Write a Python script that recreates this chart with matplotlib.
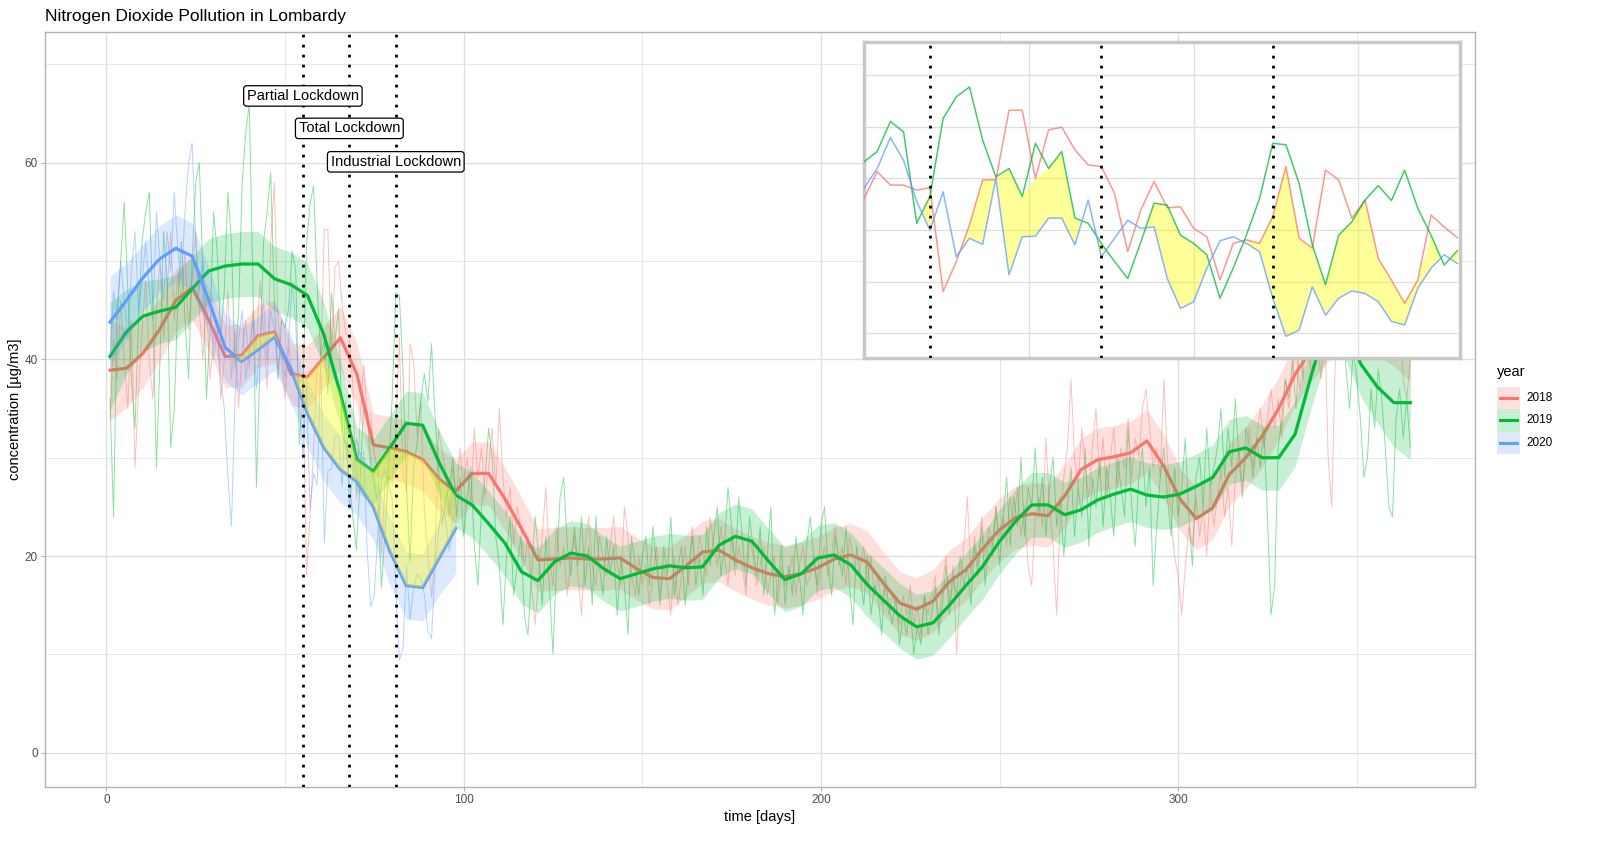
import numpy as np
import matplotlib
matplotlib.use("Agg")
import matplotlib.pyplot as plt
from matplotlib.patches import Rectangle
from matplotlib.lines import Line2D

plt.rcParams['font.family'] = ['Liberation Sans', 'DejaVu Sans']

# daily NO2 values, day 1 ... end
no2_2018 = [
    34, 42, 38, 46, 40, 35, 44, 29, 37, 43,
    48, 40, 36, 45, 50, 42, 47, 53, 44, 49,
    46, 51, 43, 48, 53, 45, 40, 46, 38, 42,
    44, 36, 40, 47, 38, 43, 35, 41, 44, 39,
    45, 41, 48, 43, 37, 52, 58, 44, 40,
    36.1, 41.3, 38.7, 38.7, 37.7, 38.2, 18.1, 23.9, 31.0, 39.7,
    39.7, 53.2, 53.2, 40.0, 49.4, 49.9, 45.5, 42.6, 42.3, 37.1,
    25.8, 33.9, 39.4, 34.3, 34.5, 30.3, 28.7, 20.3, 27.4, 28.1,
    27.4, 32.6, 42.3, 28.4, 26.5, 41.6, 39.7, 32.3, 35.8, 24.5,
    20.3, 15.8, 20.3, 32.9, 30.6, 28.5,
    24, 29, 26, 31, 27,
    30, 25, 33, 28, 31, 26, 29, 33, 27, 35,
    28, 24, 27, 21, 25, 23, 19, 22, 17, 13,
    18, 22, 27, 20, 17, 23, 19, 21, 16, 20,
    22, 18, 14, 21, 24, 19, 17, 22, 20, 18,
    21, 24, 19, 17, 25, 22, 18, 16, 20, 17,
    19, 15, 18, 21, 16, 19, 17, 14, 20, 15,
    18, 21, 17, 23, 19, 22, 20, 18, 24, 21,
    19, 23, 20, 17, 22, 18, 21, 19, 16, 22,
    20, 17, 19, 21, 16, 18, 20, 15, 19, 17,
    18, 20, 16, 19, 21, 17, 18, 20, 16, 19,
    21, 18, 20, 23, 19, 21, 17, 22, 20, 18,
    19, 21, 17, 20, 16, 18, 15, 17, 14, 16,
    15, 13, 16, 14, 17, 13, 15, 12, 16, 14,
    16, 18, 13, 17, 20, 15, 19, 10, 17, 21,
    26, 18, 22, 19, 24, 20, 23, 21, 25, 22,
    24, 21, 26, 23, 27, 22, 25, 19, 17, 24,
    26, 23, 32, 25, 21, 14, 24, 28, 31, 38,
    30, 27, 33, 29, 26, 31, 35, 28, 32, 26,
    30, 33, 27, 31, 29, 34, 28, 32, 30, 35,
    37, 33, 29, 31, 28, 38, 30, 24, 20, 18,
    14, 19, 23, 21, 26, 22, 25, 20, 27, 23,
    26, 29, 24, 27, 21, 28, 31, 27, 30, 33,
    29, 32, 35, 31, 34, 37, 33, 36, 32, 38,
    35, 39, 41, 37, 40, 43, 39, 45, 42, 38,
    44, 30, 25, 40, 46, 43, 48, 44, 41, 47,
    45, 42, 48, 44, 50, 46, 42, 47, 43, 45,
    41, 44, 38, 36, 40,
]

no2_2019 = [
    36, 24, 45, 50, 56, 47, 38, 33, 44, 52,
    55, 57, 45, 29, 40, 53, 48, 31, 35, 46,
    52, 44, 38, 50, 58, 60, 49, 36, 43, 55,
    51, 42, 47, 57, 52, 39, 45, 58, 63, 66,
    48, 27, 40, 52, 55, 59, 46, 38, 44,
    43.2, 45.2, 51.0, 49.0, 31.3, 36.5, 51.6, 55.8, 57.7, 47.4,
    40.3, 41.9, 36.5, 46.8, 41.9, 45.2, 32.3, 31.3, 27.4, 23.9,
    20.6, 27.7, 35.2, 34.8, 29.0, 27.4, 25.2, 16.8, 22.6, 29.0,
    36.1, 46.8, 46.5, 39.0, 27.1, 19.4, 29.0, 31.6, 35.8, 38.6,
    35.7, 41.6, 34.2, 29.0, 23.2, 26.0,
    27, 30, 24, 28, 22,
    26, 29, 21, 17, 25, 28, 33, 30, 22, 19,
    13, 20, 24, 16, 19, 22, 14, 12, 18, 24,
    20, 15, 22, 17, 10, 19, 26, 28, 21, 18,
    23, 19, 24, 17, 21, 15, 24, 19, 16, 22,
    18, 21, 14, 20, 17, 12, 22, 19, 16, 20,
    22, 17, 23, 19, 15, 21, 18, 24, 16, 19,
    21, 15, 19, 22, 17, 20, 16, 23, 19, 22,
    25, 18, 21, 27, 23, 19, 26, 22, 17, 24,
    21, 18, 23, 16, 20, 25, 14, 17, 21, 15,
    19, 16, 22, 18, 14, 21, 24, 20, 17, 23,
    25, 19, 16, 22, 20, 18, 23, 17, 13, 21,
    18, 15, 20, 14, 17, 16, 12, 18, 15, 13,
    16, 11, 14, 12, 15, 10, 13, 11, 16, 12,
    14, 17, 12, 15, 19, 14, 18, 16, 20, 17,
    19, 15, 21, 18, 23, 17, 22, 20, 25, 19,
    24, 28, 21, 26, 23, 30, 22, 27, 25, 31,
    24, 28, 22, 27, 30, 23, 26, 20, 25, 29,
    22, 27, 24, 31, 21, 28, 25, 30, 23, 29,
    26, 22, 30, 27, 24, 33, 25, 21, 28, 31,
    25, 29, 17, 23, 28, 31, 26, 22, 29, 24,
    27, 32, 24, 19, 28, 30, 25, 33, 27, 29,
    31, 35, 28, 33, 29, 36, 30, 26, 33, 31,
    28, 32, 29, 33, 24, 14, 17, 31, 34, 38,
    36, 40, 35, 42, 38, 45, 41, 48, 44, 47,
    43, 50, 46, 41, 48, 44, 39, 35, 41, 38,
    34, 28, 30, 37, 33, 39, 36, 31, 25, 24,
    34, 37, 32, 36, 31,
]

no2_2020 = [
    40, 47, 44, 50, 46, 42, 49, 53, 45, 48,
    52, 47, 44, 55, 50, 46, 53, 49, 57, 51,
    48, 55, 60, 62, 52, 47, 50, 44, 46, 40,
    43, 38, 35, 28, 23, 36, 42, 45, 38, 41,
    44, 37, 42, 46, 40, 45, 43, 39, 41,
    38.1, 41.9, 47.9, 43.5, 35.5, 30.0, 37.4, 24.8, 28.4, 27.2,
    40.0, 21.3, 28.7, 28.8, 32.3, 32.3, 27.1, 35.8, 24.8, 28.4,
    31.9, 30.3, 30.6, 20.6, 14.8, 16.1, 22.6, 27.9, 28.7, 27.4,
    25.8, 16.8, 9.4, 10.6, 19.0, 13.5, 16.8, 18.2, 17.7, 16.1,
    12.3, 11.6, 18.7, 22.6, 25.2, 23.5,
    20.5, 24,
]

# smoothed curves (80 point grid over days 1-365)
smooth_2018 = [
    38.9, 39.1, 40.6, 43.0, 46.0, 47.3, 44.0, 40.3, 40.4, 42.4,
    42.8, 38.5, 38.2, 40.2, 42.2, 38.5, 31.3, 31.0, 30.6, 29.8,
    27.8, 26.6, 28.4, 28.4, 25.8, 22.8, 19.6, 19.7, 19.8, 19.7,
    19.7, 19.8, 18.7, 17.8, 17.7, 19.0, 20.4, 20.6, 19.6, 18.8,
    18.2, 17.9, 18.2, 18.8, 19.7, 20.1, 19.4, 17.2, 15.2, 14.6,
    15.4, 17.4, 18.6, 20.7, 22.6, 23.9, 24.3, 24.1, 26.1, 28.8,
    29.8, 30.1, 30.5, 31.7, 29.2, 25.8, 23.8, 24.9, 28.3, 30.0,
    32.2, 35.0, 38.5, 41.0, 43.0, 44.0, 44.5, 44.0, 43.5, 43.0,
]
smooth_2019 = [
    40.3, 42.8, 44.4, 44.9, 45.3, 47.2, 49.0, 49.5, 49.7, 49.7,
    48.2, 47.6, 46.5, 42.5, 36.5, 29.8, 28.6, 31.0, 33.5, 33.3,
    29.5, 26.2, 25.2, 23.3, 21.3, 18.4, 17.5, 19.4, 20.3, 20.0,
    18.7, 17.7, 18.2, 18.7, 19.0, 18.8, 18.9, 21.1, 22.0, 21.5,
    19.5, 17.6, 18.2, 19.8, 20.1, 19.1, 17.1, 15.5, 13.9, 12.8,
    13.2, 15.0, 17.0, 18.9, 21.4, 23.5, 25.2, 25.2, 24.2, 24.7,
    25.7, 26.3, 26.8, 26.2, 26.0, 26.3, 27.1, 28.0, 30.6, 31.0,
    30.0, 30.0, 32.4, 38.5, 44.0, 43.5, 39.5, 37.2, 35.6, 35.6,
]
smooth_2020 = [
    43.8, 46.0, 48.3, 50.2, 51.3, 50.5, 46.0, 41.2, 39.8, 41.0,
    42.3, 39.0, 34.5, 31.0, 28.8, 27.6, 25.0, 20.5, 17.0, 16.8,
    19.8, 22.8,
]

# half width of the confidence bands
band_2018 = [5.2, 4.0, 3.5] + [3.2] * 74 + [3.6, 4.2, 5.2]
band_2019 = [5.5, 4.3, 3.6] + [3.3] * 74 + [3.7, 4.5, 5.8]
band_2020 = [4.6, 3.8] + [3.4] * 18 + [3.8, 4.6]

years = ["2018", "2019", "2020"]
colors = {"2018": "#F8766D", "2019": "#00BA38", "2020": "#619CFF"}
daily = {"2018": no2_2018, "2019": no2_2019, "2020": no2_2020}
smooth = {"2018": smooth_2018, "2019": smooth_2019, "2020": smooth_2020}
band = {"2018": band_2018, "2019": band_2019, "2020": band_2020}

lockdown_days = [55, 68, 81]
lockdown_labels = ["Partial Lockdown", "Total Lockdown", "Industrial Lockdown"]
label_y = [66.8, 63.5, 60.1]

grid_days = np.linspace(1, 365, 80)
grid_col = "#DEDEDE"
dots = (0, (1, 2.6))

W, H = 1600, 848
fig = plt.figure(figsize=(W / 100, H / 100), dpi=100)
ax = fig.add_axes([0.0281, 0.0719, 0.894, 0.8903])

# daily lines
for yr in years:
    d = np.array(daily[yr])
    ax.plot(np.arange(1, len(d) + 1), d, color=colors[yr], lw=0.7, alpha=0.45, zorder=2)

# smooth + band, per year
for yr in years:
    s = np.array(smooth[yr])
    g = grid_days[:len(s)]
    hw = np.array(band[yr])
    ax.fill_between(g, s - hw, s + hw, color=colors[yr], alpha=0.22, lw=0, zorder=3)
    ax.plot(g, s, color=colors[yr], lw=2.3, zorder=3)

# yellow area: 2020 below both earlier years
s20 = np.array(smooth_2020)
n20 = len(s20)
top = np.minimum(np.array(smooth_2018[:n20]), np.array(smooth_2019[:n20]))
ax.fill_between(grid_days[:n20], s20, top, where=s20 < top, interpolate=True,
                color="yellow", alpha=0.35, lw=0, zorder=4)

for d in lockdown_days:
    ax.axvline(d, color="black", ls=dots, lw=2, zorder=5)
for d, lab, yv in zip(lockdown_days, lockdown_labels, label_y):
    ax.text(d, yv, lab, ha="center", va="center", fontsize=10.5, zorder=6,
            bbox=dict(boxstyle="round,pad=0.22,rounding_size=0.2", fc="white", ec="black", lw=0.9))

ax.set_xlim(-17.2, 383.2)
ax.set_ylim(-3.5, 73.3)
ax.set_xticks([0, 100, 200, 300])
ax.set_yticks([0, 20, 40, 60])
ax.set_xticks([50, 150, 250, 350], minor=True)
ax.set_yticks([10, 30, 50, 70], minor=True)
ax.grid(True, which="major", color=grid_col, lw=0.9, zorder=0)
ax.grid(True, which="minor", color=grid_col, lw=0.5, zorder=0)
ax.set_axisbelow(True)
ax.tick_params(which="major", length=3, color="#B3B3B3", labelcolor="#4D4D4D", labelsize=8.5, pad=2)
ax.tick_params(which="minor", length=0)
for sp in ax.spines.values():
    sp.set_color("#B3B3B3")
    sp.set_linewidth(1)

fig.text(0.0281, 0.981, "Nitrogen Dioxide Pollution in Lombardy", fontsize=12.5, ha="left", va="center")
fig.text(0.475, 0.037, "time [days]", fontsize=10.5, ha="center", va="center")
fig.text(0.0095, 0.517, "concentration [µg/m3]", fontsize=10.5, ha="center", va="center", rotation=90)

# legend drawn by hand (ggplot style keys), pixel positions
fig.text(1497 / W, 1 - 372 / H, "year", fontsize=10.5, ha="left", va="center")
for i, yr in enumerate(years):
    yc = 398 + i * 22.5
    fig.add_artist(Rectangle((1497 / W, 1 - (yc + 11.2) / H), 22.5 / W, 22.5 / H,
                             transform=fig.transFigure, facecolor=colors[yr], alpha=0.22,
                             edgecolor="none"))
    fig.add_artist(Line2D([1500 / W, 1517 / W], [1 - yc / H, 1 - yc / H],
                          transform=fig.transFigure, color=colors[yr], lw=2.2))
    fig.text(1526 / W, 1 - yc / H, yr, fontsize=8.5, ha="left", va="center")

# inset: daily values around the lockdowns
ins = fig.add_axes([0.54, 0.5778, 0.3725, 0.3726])
ins.set_facecolor("white")
lo, hi = 50, 95
days_in = np.arange(lo, hi + 1)
seg = {yr: np.array(daily[yr][lo - 1:hi]) for yr in years}
for yr in years:
    ins.plot(days_in, seg[yr], color=colors[yr], lw=1.1, alpha=0.75, zorder=3)
top_in = np.minimum(seg["2018"], seg["2019"])
ins.fill_between(days_in, seg["2020"], top_in, where=seg["2020"] < top_in, interpolate=True,
                 color="yellow", alpha=0.4, lw=0, zorder=2)
for d in lockdown_days:
    ins.axvline(d, color="black", ls=dots, lw=2, zorder=4)
ins.set_xlim(50, 95.2)
ins.set_ylim(5.2, 66.4)
ins.set_xticks([62.5, 75, 87.5])
ins.set_yticks([10, 20, 30, 40, 50, 60])
ins.grid(True, color=grid_col, lw=0.9, zorder=0)
ins.set_axisbelow(True)
ins.tick_params(length=0, labelbottom=False, labelleft=False)
for sp in ins.spines.values():
    sp.set_color("#C8C8C8")
    sp.set_linewidth(2.5)

fig.savefig("out.png", dpi=100)
